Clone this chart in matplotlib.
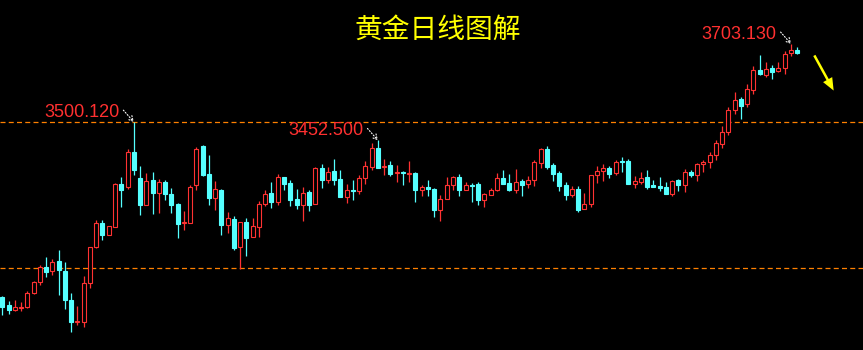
import matplotlib.pyplot as plt
from matplotlib.patches import FancyArrowPatch

# daily gold candles
opens = [3044, 3023, 3010, 3017, 3018, 3055, 3083, 3122, 3112, 3139,
         3113, 3037, 2980, 2981, 3081, 3174, 3237, 3207, 3228, 3339,
         3332, 3422, 3354, 3284, 3349, 3316, 3344, 3313, 3287, 3237,
         3238, 3335, 3438, 3365, 3303, 3323, 3233, 3248, 3176, 3240,
         3202, 3228, 3288, 3315, 3293, 3357, 3341, 3300, 3285, 3318,
         3288, 3380, 3350, 3373, 3352, 3306, 3323, 3321, 3355, 3384,
         3432, 3382, 3387, 3368, 3371, 3366, 3367, 3322, 3331, 3326,
         3272, 3301, 3337, 3357, 3324, 3336, 3339, 3298, 3311, 3322,
         3354, 3341, 3322, 3347, 3338, 3348, 3393, 3430, 3388, 3367,
         3336, 3311, 3326, 3275, 3288, 3361, 3372, 3380, 3368, 3399,
         3399, 3340, 3345, 3357, 3336, 3334, 3331, 3314, 3349, 3337,
         3370, 3363, 3392, 3397, 3415, 3444, 3475, 3531, 3559, 3546,
         3584, 3634, 3621, 3640, 3632, 3640, 3679, 3686]
highs = [3048, 3035, 3037, 3032, 3061, 3086, 3127, 3149, 3143, 3167,
         3136, 3055, 3022, 3100, 3176, 3244, 3245, 3230, 3341, 3357,
         3429, 3500.12, 3386, 3367, 3370, 3352, 3349, 3328, 3289, 3269,
         3335, 3435, 3439, 3414, 3347, 3326, 3266, 3256, 3240, 3250,
         3250, 3294, 3323, 3344, 3365, 3358, 3349, 3326, 3331, 3323,
         3382, 3391, 3383, 3404, 3375, 3339, 3350, 3361, 3399, 3445,
         3452.5, 3404, 3399, 3388, 3373, 3399, 3370, 3336, 3349, 3328,
         3310, 3357, 3360, 3365, 3344, 3341, 3344, 3315, 3328, 3367,
         3375, 3365, 3378, 3352, 3360, 3401, 3432, 3438, 3393, 3373,
         3344, 3334, 3334, 3315, 3363, 3386, 3391, 3386, 3401, 3409,
         3404, 3360, 3370, 3375, 3349, 3357, 3344, 3349, 3352, 3378,
         3375, 3393, 3401, 3422, 3452, 3489, 3538, 3577, 3564, 3598,
         3645, 3673, 3655, 3647, 3655, 3684, 3703.13, 3694]
lows = [2997, 3002, 3009, 3009, 3017, 3054, 3075, 3098, 3103, 3050,
        3015, 2955, 2972, 2968, 3069, 3173, 3192, 3206, 3227, 3280,
        3327, 3363, 3257, 3283, 3261, 3264, 3297, 3263, 3199, 3219,
        3237, 3322, 3360, 3284, 3271, 3205, 3211, 3166, 3118, 3152,
        3201, 3202, 3282, 3277, 3284, 3322, 3282, 3275, 3243, 3269,
        3287, 3329, 3341, 3337, 3305, 3290, 3298, 3314, 3338, 3375,
        3380, 3362, 3360, 3345, 3337, 3345, 3293, 3308, 3308, 3254,
        3243, 3300, 3324, 3308, 3323, 3293, 3285, 3280, 3310, 3321,
        3339, 3321, 3316, 3308, 3329, 3334, 3381, 3378, 3347, 3321,
        3298, 3306, 3267, 3274, 3280, 3342, 3347, 3354, 3362, 3370,
        3339, 3329, 3340, 3326, 3330, 3321, 3313, 3308, 3321, 3319,
        3358, 3347, 3371, 3381, 3402, 3433, 3467, 3522, 3509, 3538,
        3574, 3623, 3616, 3611, 3631, 3624, 3671, 3678]
closes = [3020, 3010, 3018, 3019, 3055, 3083, 3122, 3111, 3135, 3114,
          3036, 2981, 2983, 3081, 3175, 3237, 3207, 3229, 3340, 3324,
          3421, 3376, 3284, 3347, 3316, 3344, 3314, 3284, 3235, 3240,
          3331, 3430, 3361, 3303, 3326, 3233, 3250, 3173, 3239, 3199,
          3230, 3288, 3312, 3293, 3356, 3340, 3297, 3284, 3315, 3284,
          3380, 3350, 3370, 3349, 3306, 3323, 3321, 3354, 3386, 3432,
          3381, 3386, 3366, 3370, 3367, 3367, 3322, 3331, 3325, 3272,
          3301, 3336, 3357, 3324, 3336, 3334, 3298, 3313, 3323, 3354,
          3340, 3322, 3344, 3337, 3349, 3396, 3430, 3383, 3366, 3334,
          3311, 3326, 3272, 3288, 3362, 3373, 3380, 3366, 3396, 3396,
          3340, 3347, 3354, 3331, 3331, 3329, 3314, 3347, 3337, 3370,
          3363, 3392, 3396, 3413, 3445, 3473, 3530, 3556, 3542, 3585,
          3634, 3624, 3637, 3631, 3640, 3676, 3686, 3679]

levels = [3500, 3120]          # dashed support / resistance
peaks = [21, 60, 126]          # candles with price labels
title = '黄金日线图解'

UP = '#FF3232'
DOWN = '#55FFFF'

fig = plt.figure(figsize=(8.63, 3.5), dpi=100, facecolor='black')
ax = fig.add_axes([0, 0, 1, 1])
ax.set_facecolor('black')

x = list(range(len(opens)))
cols = [UP if c >= o else DOWN for o, c in zip(opens, closes)]
faces = ['black' if c >= o else DOWN for o, c in zip(opens, closes)]

ax.vlines(x, lows, highs, colors=cols, lw=0.9, zorder=2)
ax.bar(x, [abs(c - o) for o, c in zip(opens, closes)],
       bottom=[min(o, c) for o, c in zip(opens, closes)],
       width=0.64, color=faces, edgecolor=cols, linewidth=0.8, zorder=3)

for lv in levels:
    ax.axhline(lv, color='#FF8000', lw=0.9, dashes=(4, 2.6), zorder=1)

for i in peaks:
    ax.annotate('', xy=(i, highs[i]), xytext=(-7.5, 8.5),
                textcoords='offset points',
                arrowprops=dict(arrowstyle='->,head_length=0.35,head_width=0.2',
                                color='white', lw=0.8, ls=':',
                                shrinkA=0, shrinkB=0), zorder=5)
    ax.annotate('%.3f' % highs[i], xy=(i, highs[i]), xytext=(-10.5, 3.5),
                textcoords='offset points', ha='right', va='baseline',
                color='#FF3030', fontsize=13, family='Liberation Sans')

fig.text(0.507, 0.915, title, ha='center', va='center', fontsize=20,
         fontweight='medium', color='#FFFF00',
         family=['Noto Sans CJK SC', 'DejaVu Sans'])

arr = FancyArrowPatch((813 / 863, 1 - 53 / 350), (835 / 863, 1 - 93 / 350),
                      transform=fig.transFigure, mutation_scale=1,
                      arrowstyle='simple,head_length=9,head_width=7.5,tail_width=1.8',
                      color='#FFFF00', lw=0)
fig.patches.append(arr)

ax.set_xlim(-0.37, 137.5)
ax.set_ylim(2907.2, 3817.2)
ax.axis('off')

fig.savefig('out.png', dpi=100, facecolor='black')
